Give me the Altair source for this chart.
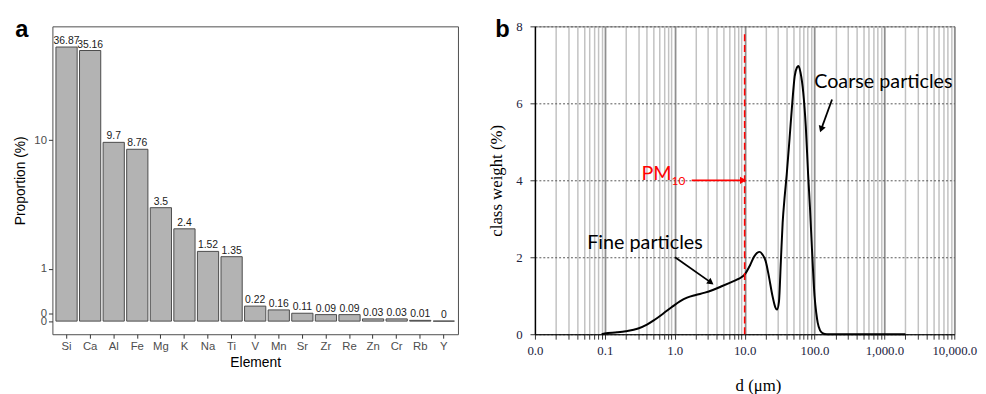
import altair as alt
import pandas as pd

# ---------------- data ----------------
elements = ["Si", "Ca", "Al", "Fe", "Mg", "K", "Na", "Ti", "V", "Mn", "Sr", "Zr", "Re", "Zn", "Cr", "Rb", "Y"]
proportions = [36.87, 35.16, 9.7, 8.76, 3.5, 2.4, 1.52, 1.35, 0.22, 0.16, 0.11, 0.09, 0.09, 0.03, 0.03, 0.01, 0]
prop_ticks = [0, 0.1, 1, 10]

d_um = [0.09, 0.1, 0.15, 0.2, 0.3, 0.4, 0.5, 0.7, 0.9, 1.2, 1.5, 2.0, 2.7, 3.5, 4.6, 6.0, 8.0, 10, 12,
        13.5, 15, 16.5, 18, 20, 22, 25, 27.5, 29, 31, 33, 35, 37.5, 40, 44, 48, 52, 56, 59, 63, 69, 75,
        81, 86, 92, 100, 106, 111, 120, 130, 150, 300, 1000, 2000]
weight = [0.0, 0.02, 0.05, 0.08, 0.15, 0.25, 0.36, 0.55, 0.7, 0.86, 0.95, 1.02, 1.08, 1.15, 1.24, 1.33,
          1.43, 1.55, 1.8, 2.0, 2.11, 2.14, 2.07, 1.9, 1.55, 1.0, 0.7, 0.64, 0.85, 1.9, 2.9, 3.6, 4.15,
          5.1, 6.0, 6.7, 6.93, 6.97, 6.8, 6.28, 5.4, 4.15, 3.3, 2.2, 1.0, 0.55, 0.3, 0.1, 0.03, 0.0,
          0.0, 0.0, 0.0]
weight_ticks = [0, 2, 4, 6, 8]
decades = [0.01, 0.1, 1, 10, 100, 1000, 10000]
minor_ticks = [m * dec for dec in decades[:-1] for m in range(1, 10)] + [10000]

pm_line_x = [10]
pm_line_y = [0]
pm_line_y2 = [7.85]

arrow_x1 = [1.75, 178, 1.01]
arrow_y1 = [4.0, 6.1, 2.0]
arrow_x2 = [9.2, 126, 3.2]
arrow_y2 = [4.0, 5.35, 1.36]
arrow_angle = [90, 200, 126]
arrow_color = ["#ff0000", "#000000", "#000000"]

ann_text = ["PM", "10", "Coarse particles", "Fine particles"]
ann_x = [0.335, 0.9, 99, 0.056]
ann_y = [4.15, 3.98, 6.54, 2.36]
ann_size = [20, 12, 20, 20]
ann_color = ["#ff0000", "#ff0000", "#000000", "#000000"]

# ---------------- panel a ----------------
df_a = pd.DataFrame({
    "element": elements,
    "value": proportions,
    "label": [f"{v:g}" for v in proportions],
})

FONT_A = "Liberation Sans"
x_a = alt.X("element:N", sort=elements,
            scale=alt.Scale(paddingInner=0.1, paddingOuter=0.15),
            axis=alt.Axis(title="Element", labelAngle=0, labelFont=FONT_A, labelFontSize=11.5,
                          labelColor="#4d4d4d", tickColor="#333333", tickSize=4, labelPadding=2,
                          domain=False, titleFont=FONT_A, titleFontSize=14, titleFontWeight="normal",
                          titleColor="#000000", titlePadding=4))
y_a = alt.Y("value:Q",
            scale=alt.Scale(type="symlog", constant=1, domain=[-0.19, 48.8], nice=False, zero=False),
            axis=alt.Axis(title="Proportion (%)", values=prop_ticks, labelFont=FONT_A, labelFontSize=11.5,
                          labelColor="#4d4d4d", tickColor="#333333", tickSize=4, labelPadding=2,
                          labelOverlap=False, labelFlush=False, grid=False, domain=False,
                          titleFont=FONT_A, titleFontSize=14, titleFontWeight="normal",
                          titleColor="#000000", titlePadding=6))

bars = alt.Chart(df_a).mark_bar(fill="#b3b3b3", stroke="#4a4a4a", strokeWidth=1).encode(
    x=x_a, y=y_a, y2=alt.datum(0))
bar_labels = alt.Chart(df_a).mark_text(baseline="bottom", dy=-1, fontSize=10.5, font=FONT_A,
                                       color="#1a1a1a").encode(x=x_a, y=y_a, text="label:N")
letter_a = alt.Chart(pd.DataFrame({"t": ["a"]})).mark_text(
    fontSize=24, fontWeight="bold", font="Liberation Sans", align="center", baseline="middle",
    color="#000000").encode(x=alt.value(-31), y=alt.value(4), text="t:N")

panel_a = alt.layer(bars, bar_labels, letter_a).properties(
    width=411, height=312, view=alt.ViewBackground(stroke="#4d4d4d", strokeWidth=1))

# ---------------- panel b ----------------
SERIF = "Liberation Serif"
NAVY = "#1c2340"
ANN_FONT = "Lato"

df_b = pd.DataFrame({"d": d_um, "w": weight})

decade_test = "abs(log(datum.value)/LN10 - round(log(datum.value)/LN10)) < 1e-6"
x_b = alt.X("d:Q", scale=alt.Scale(type="log", domain=[0.01, 10000], nice=False),
            axis=alt.Axis(title="d (μm)", values=minor_ticks,
                          labelExpr="datum.value < 0.011 ? '0.0' : (" + decade_test +
                                    " ? format(datum.value, ',.1f') : '')",
                          labelFont=SERIF, labelFontSize=13, labelColor=NAVY, labelPadding=6,
                          labelOverlap=False, labelFlush=False,
                          tickColor="#333333", tickSize=5, domainColor="#000000", domainWidth=1.2,
                          grid=True,
                          gridColor={"condition": {"test": decade_test, "value": "#8f8f8f"},
                                     "value": "#c2c2c2"},
                          gridWidth={"condition": {"test": decade_test, "value": 1.8}, "value": 1.5},
                          titleFont=SERIF, titleFontSize=17, titleFontWeight="normal",
                          titleColor="#000000", titlePadding=20, titleX=226))
y_b = alt.Y("w:Q", scale=alt.Scale(domain=[0, 8], nice=False),
            axis=alt.Axis(title="class weight (%)", values=weight_ticks, labelFont=SERIF,
                          labelFontSize=13, labelColor=NAVY, labelPadding=8, tickSize=5,
                          tickColor="#333333", domainColor="#000000", domainWidth=1.2,
                          grid=True, gridDash=[2, 2], gridColor="#555555", gridWidth=1,
                          titleFont=SERIF, titleFontSize=17, titleFontWeight="normal",
                          titleColor="#000000", titlePadding=10))

curve = alt.Chart(df_b).mark_line(color="#000000", strokeWidth=2, interpolate="monotone").encode(
    x=x_b, y=y_b)

pm_line = alt.Chart(pd.DataFrame({"d": pm_line_x, "y1": pm_line_y, "y2": pm_line_y2})).mark_rule(
    color="#ff0000", strokeDash=[7, 4], strokeWidth=1.6).encode(
    x=alt.X("d:Q"), y=alt.Y("y1:Q"), y2="y2:Q")

df_arr = pd.DataFrame({"x1": arrow_x1, "y1": arrow_y1, "x2": arrow_x2, "y2": arrow_y2,
                       "ang": arrow_angle, "col": arrow_color})
arrow_lines = alt.Chart(df_arr).mark_rule(strokeWidth=1.8).encode(
    x="x1:Q", y="y1:Q", x2="x2:Q", y2="y2:Q", color=alt.Color("col:N", scale=None))
arrow_heads = alt.Chart(df_arr).mark_point(shape="triangle", filled=True, size=55, opacity=1).encode(
    x="x2:Q", y="y2:Q", angle=alt.Angle("ang:Q", scale=None), color=alt.Color("col:N", scale=None))

df_ann = pd.DataFrame({"t": ann_text, "x": ann_x, "y": ann_y, "s": ann_size, "c": ann_color})
ann = alt.Chart(df_ann).mark_text(align="left", baseline="middle", font=ANN_FONT).encode(
    x="x:Q", y="y:Q", text="t:N", size=alt.Size("s:Q", scale=None),
    color=alt.Color("c:N", scale=None))

letter_b = alt.Chart(pd.DataFrame({"t": ["b"]})).mark_text(
    fontSize=24, fontWeight="bold", font="Liberation Sans", align="center", baseline="middle",
    color="#000000").encode(x=alt.value(-33), y=alt.value(4), text="t:N")

panel_b = alt.layer(curve, pm_line, arrow_lines, arrow_heads, ann, letter_b).properties(
    width=425, height=312, view=alt.ViewBackground(stroke="#808080", strokeWidth=1))

chart = alt.hconcat(panel_a, panel_b, spacing=29).properties(
    padding={"left": 5, "top": 7, "right": 0, "bottom": 0},
    background="#ffffff")

chart.save("out.html", embed_options={"renderer": "svg", "actions": False})
